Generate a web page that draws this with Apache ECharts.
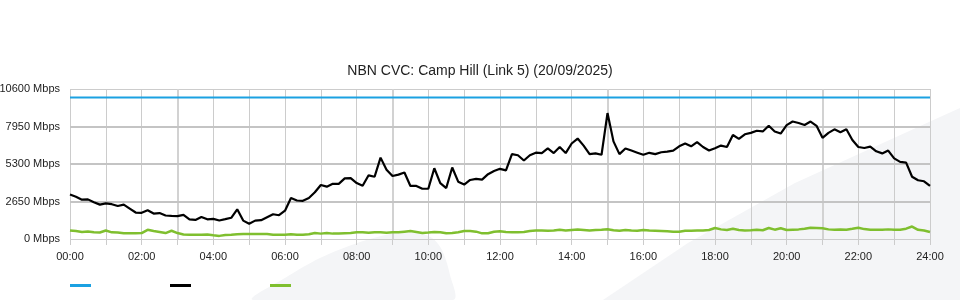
<!DOCTYPE html>
<html>
<head>
<meta charset="utf-8">
<script src="https://cdn.jsdelivr.net/npm/echarts@6/dist/echarts.min.js"></script>
<style>
html,body{margin:0;padding:0;background:#fff;}
#chart{width:960px;height:300px;}
</style>
</head>
<body>
<div id="chart"></div>
<script>
// ---- data ----
const titleText = 'NBN CVC: Camp Hill (Link 5) (20/09/2025)';
const seriesNames = ['Capacity', 'Download', 'Upload'];
const sampleStepMinutes = 10;
const xTickLabels = ['00:00','02:00','04:00','06:00','08:00','10:00','12:00','14:00','16:00','18:00','20:00','22:00','24:00'];
const yTickLabels = ['0 Mbps','2650 Mbps','5300 Mbps','7950 Mbps','10600 Mbps'];
const capacityMbps = 10000;
const downloadMbps = [
  3145, 2990, 2780, 2800, 2600, 2430, 2520, 2460, 2330, 2430, 2150, 1870, 1850, 2030, 1800, 1830, 1660, 1630, 1620, 1700, 1380, 1350, 1560, 1390, 1420,
  1310, 1400, 1500, 2100, 1300, 1080, 1300, 1330, 1540, 1750, 1680, 2000, 2900, 2720, 2700, 2900, 3300, 3820, 3700, 3900, 3900, 4280, 4300, 3950,
  3760, 4500, 4400, 5750, 4900, 4450, 4550, 4700, 3750, 3750, 3550, 3550, 5000, 3950, 3600, 5050, 4050, 3850, 4170, 4250, 4200, 4580, 4800, 4960,
  4850, 6000, 5920, 5550, 5920, 6100, 6070, 6400, 6070, 6500, 6070, 6750, 7100, 6600, 6000, 6050, 5950, 8900, 6900, 6000, 6400, 6250, 6100, 5950,
  6090, 6000, 6130, 6180, 6250, 6550, 6750, 6550, 6850, 6500, 6250, 6420, 6600, 6500, 7350, 7080, 7400, 7500, 7650, 7600, 8000, 7600, 7450, 8050,
  8300, 8200, 8060, 8300, 8000, 7150, 7500, 7750, 7550, 7750, 7000, 6500, 6430, 6530, 6200, 6050, 6250, 5700, 5450, 5400, 4400, 4150, 4080, 3750
];
const uploadMbps = [
  600, 560, 500, 530, 470, 460, 600, 470, 460, 400, 400, 400, 420, 650, 560, 500, 420, 580, 420, 320, 300, 300, 300, 310, 260,
  220, 290, 300, 330, 360, 360, 360, 350, 350, 300, 300, 300, 330, 300, 300, 330, 430, 380, 430, 380, 380, 400, 420, 470,
  480, 450, 480, 470, 450, 470, 470, 520, 560, 500, 430, 460, 500, 480, 400, 430, 480, 560, 560, 520, 400, 410, 510, 540,
  500, 480, 480, 500, 560, 600, 600, 580, 600, 650, 600, 640, 670, 640, 600, 640, 650, 690, 620, 580, 640, 600, 580, 640,
  600, 580, 560, 540, 520, 520, 580, 580, 600, 600, 640, 780, 680, 640, 720, 640, 600, 620, 650, 620, 780, 660, 760, 640,
  660, 680, 720, 800, 780, 760, 680, 650, 670, 660, 720, 800, 700, 660, 660, 650, 680, 650, 660, 730, 880, 650, 600, 500
];
const emphasisHours = [3, 9, 15, 21];
const emphasisLevels = [2650, 5300, 7950];

// ---- build ----
const toPairs = arr => arr.map((v, i) => [i * sampleStepMinutes, v]);
const lastMinute = (downloadMbps.length - 1) * sampleStepMinutes;
const capacityPairs = [[0, capacityMbps], [lastMinute, capacityMbps]];

const chart = echarts.init(document.getElementById('chart'), null, {renderer: 'canvas'});
const font = '"Liberation Sans", Arial, sans-serif';

chart.setOption({
  animation: false,
  backgroundColor: '#ffffff',
  graphic: {
    elements: [
      {type: 'polygon', z: -10, silent: true,
        shape: {points: [[253,300],[285,278],[320,258],[360,242],[395,233],[415,232],[432,238],[442,250],[450,275],[453,300]], smooth: 0.3},
        style: {fill: '#f4f5f7'}},
      {type: 'polygon', z: -10, silent: true,
        shape: {points: [[603,300],[688,243],[795,183],[940,117],[960,108],[960,300]]},
        style: {fill: '#f4f5f7'}}
    ]
  },
  title: {
    text: titleText, left: 'center', top: 59,
    textStyle: {fontFamily: font, fontSize: 14, fontWeight: 'normal', color: '#222'}
  },
  legend: {
    left: 65, top: 279, itemWidth: 21, itemHeight: 3, itemGap: 79, icon: 'rect',
    formatter: () => '', selectedMode: false,
    data: seriesNames
  },
  grid: {left: 70, right: 30, top: 89, bottom: 61, containLabel: false, outerBoundsMode: 'none'},
  xAxis: {
    type: 'value', min: 0, max: 1440, interval: 60,
    axisLine: {show: false},
    axisTick: {show: true, length: 6, lineStyle: {color: '#cccccc'}},
    axisLabel: {
      margin: 12, fontFamily: font, fontSize: 11, color: '#222',
      formatter: v => (v % 120 === 0 ? xTickLabels[v / 120] : '')
    },
    splitLine: {show: true, lineStyle: {color: '#cccccc', width: 1}}
  },
  yAxis: {
    type: 'value', min: 0, max: 10600, interval: 2650,
    axisLine: {show: false}, axisTick: {show: false},
    axisLabel: {
      margin: 10, fontFamily: font, fontSize: 11, color: '#222',
      formatter: v => yTickLabels[Math.round(v / 2650)]
    },
    splitLine: {show: true, lineStyle: {color: '#cccccc', width: 1}}
  },
  series: [
    {
      name: seriesNames[0], type: 'line', data: capacityPairs, showSymbol: false,
      color: '#1ba1e2', lineStyle: {width: 2, color: '#1ba1e2'}, z: 3,
      markLine: {
        silent: true, symbol: 'none', label: {show: false}, z: 1,
        lineStyle: {color: '#c4c4c4', width: 2, type: 'solid'},
        emphasis: {disabled: true},
        data: emphasisHours.map(h => ({xAxis: h * 60, lineStyle: {color: '#d2d2d2', width: 2}}))
          .concat(emphasisLevels.map(l => ({yAxis: l})))
      }
    },
    {
      name: seriesNames[1], type: 'line', data: toPairs(downloadMbps), showSymbol: false,
      color: '#000000', lineStyle: {width: 2.2, color: '#000000'}, z: 4
    },
    {
      name: seriesNames[2], type: 'line', data: toPairs(uploadMbps), showSymbol: false,
      color: '#7fbf2f', lineStyle: {width: 2.5, color: '#7fbf2f'}, z: 4
    }
  ]
});
</script>
</body>
</html>
